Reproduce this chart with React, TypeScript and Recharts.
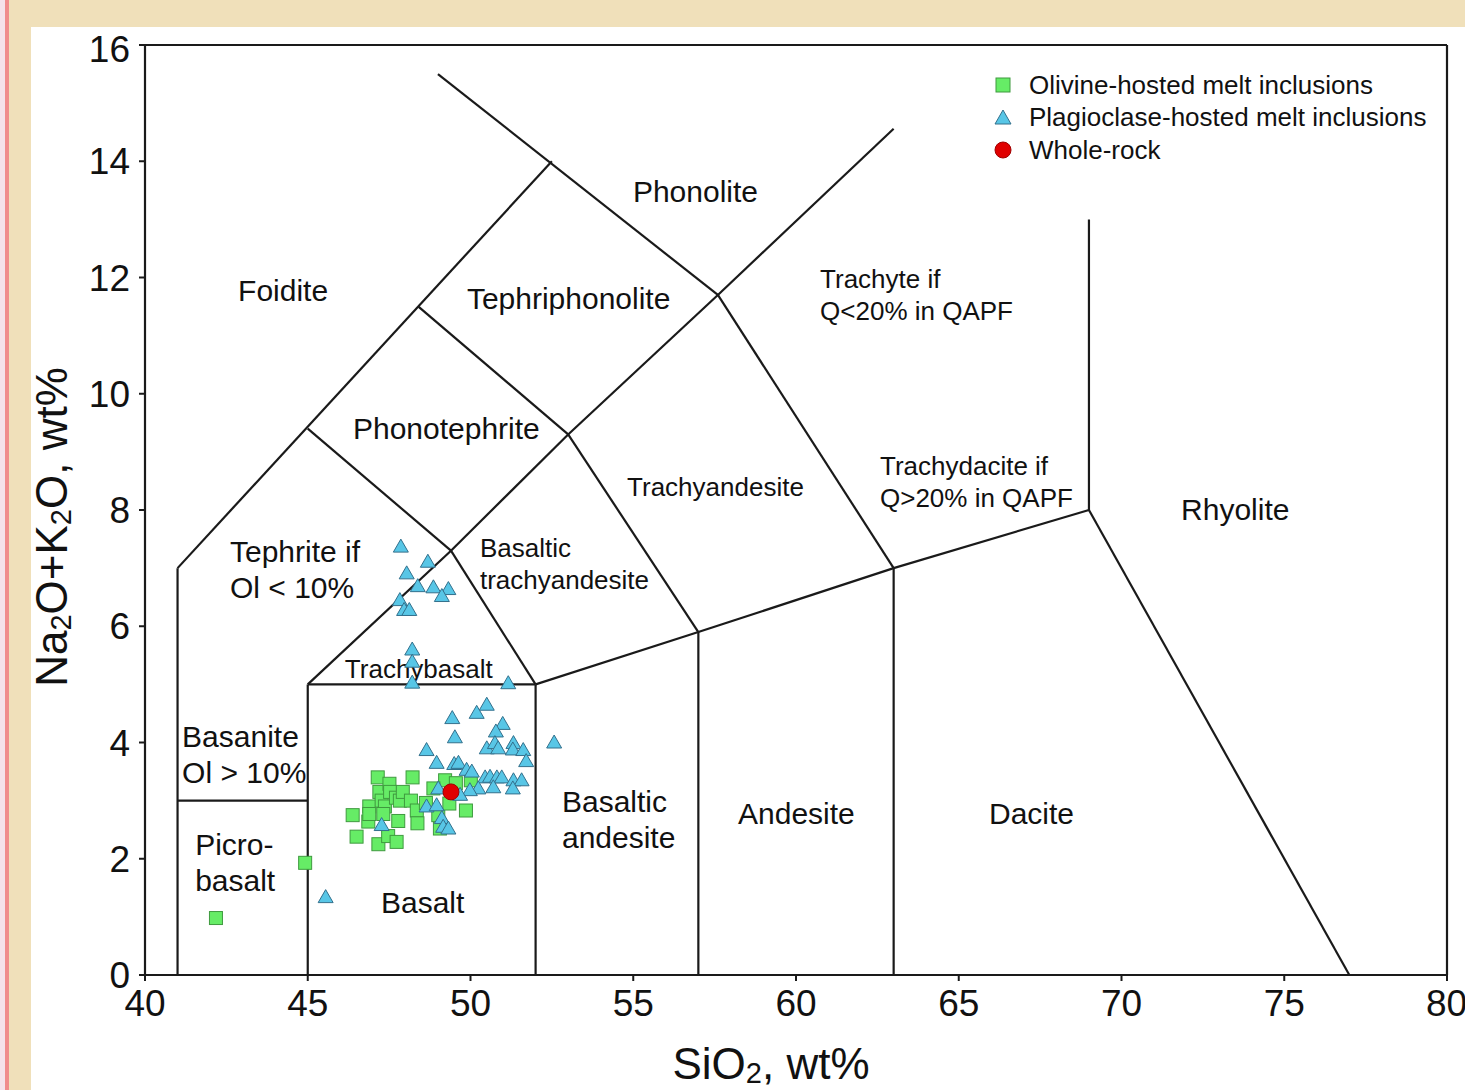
import React from 'react';
import { ScatterChart, Scatter, XAxis, YAxis, ReferenceLine, Legend } from 'recharts';

// axis ticks
const X_TICKS = [40, 45, 50, 55, 60, 65, 70, 75, 80];
const Y_TICKS = [0, 2, 4, 6, 8, 10, 12, 14, 16];

// olivine-hosted melt inclusions (SiO2, Na2O+K2O)
const OLIVINE_MI = [
  { x: 42.18, y: 0.98 }, { x: 44.92, y: 1.93 }, { x: 46.38, y: 2.75 }, { x: 46.5, y: 2.38 },
  { x: 46.86, y: 2.64 }, { x: 46.89, y: 2.9 }, { x: 46.89, y: 2.77 }, { x: 47.15, y: 3.4 },
  { x: 47.2, y: 3.15 }, { x: 47.27, y: 3.0 }, { x: 47.37, y: 2.9 }, { x: 47.32, y: 2.77 },
  { x: 47.17, y: 2.25 }, { x: 47.47, y: 2.39 }, { x: 47.73, y: 2.29 }, { x: 47.51, y: 3.29 },
  { x: 47.53, y: 3.15 }, { x: 47.71, y: 3.05 }, { x: 47.83, y: 3.0 }, { x: 47.92, y: 3.15 },
  { x: 48.22, y: 3.4 }, { x: 48.17, y: 3.0 }, { x: 48.35, y: 2.83 }, { x: 47.78, y: 2.65 },
  { x: 48.37, y: 2.61 }, { x: 48.63, y: 2.96 }, { x: 49.01, y: 2.75 }, { x: 49.22, y: 3.35 },
  { x: 49.35, y: 2.95 }, { x: 49.86, y: 2.83 }, { x: 49.55, y: 3.3 }, { x: 50.01, y: 3.35 },
  { x: 48.86, y: 3.21 }, { x: 49.06, y: 2.52 },
];

// plagioclase-hosted melt inclusions
const PLAGIOCLASE_MI = [
  { x: 47.86, y: 7.37 }, { x: 48.69, y: 7.11 }, { x: 48.04, y: 6.91 }, { x: 48.38, y: 6.69 },
  { x: 48.86, y: 6.67 }, { x: 49.32, y: 6.64 }, { x: 49.12, y: 6.52 }, { x: 47.83, y: 6.45 },
  { x: 47.96, y: 6.28 }, { x: 48.12, y: 6.28 }, { x: 48.21, y: 5.6 }, { x: 48.21, y: 5.39 },
  { x: 48.21, y: 5.03 }, { x: 51.16, y: 5.02 }, { x: 52.57, y: 4.0 }, { x: 45.55, y: 1.34 },
  { x: 50.5, y: 4.65 }, { x: 50.19, y: 4.51 }, { x: 49.44, y: 4.42 }, { x: 50.99, y: 4.32 },
  { x: 50.78, y: 4.19 }, { x: 49.52, y: 4.09 }, { x: 48.65, y: 3.87 }, { x: 50.5, y: 3.9 },
  { x: 50.75, y: 3.99 }, { x: 50.85, y: 3.9 }, { x: 51.32, y: 3.99 }, { x: 51.3, y: 3.88 },
  { x: 51.62, y: 3.87 }, { x: 51.71, y: 3.68 }, { x: 48.96, y: 3.65 }, { x: 49.5, y: 3.63 },
  { x: 49.63, y: 3.65 }, { x: 49.88, y: 3.53 }, { x: 50.04, y: 3.5 }, { x: 50.45, y: 3.4 },
  { x: 50.6, y: 3.41 }, { x: 50.81, y: 3.4 }, { x: 50.96, y: 3.4 }, { x: 51.32, y: 3.35 },
  { x: 51.57, y: 3.35 }, { x: 50.7, y: 3.23 }, { x: 51.3, y: 3.21 }, { x: 50.24, y: 3.21 },
  { x: 49.98, y: 3.18 }, { x: 48.65, y: 2.9 }, { x: 48.96, y: 2.92 }, { x: 49.12, y: 2.7 },
  { x: 49.16, y: 2.55 }, { x: 49.32, y: 2.52 }, { x: 47.27, y: 2.58 }, { x: 49.01, y: 3.21 },
  { x: 49.68, y: 3.1 },
];

const WHOLE_ROCK = [{ x: 49.4, y: 3.15 }];

const SERIES_NAMES = ['Olivine-hosted melt inclusions', 'Plagioclase-hosted melt inclusions', 'Whole-rock'];

// TAS field boundaries (Le Bas et al.), as polylines [SiO2, alkalis]
const FIELD_BOUNDARIES = [
  [[41, 0], [41, 7], [52.5, 14]],
  [[41, 3], [45, 3]],
  [[45, 0], [45, 5], [52, 5], [52, 0]],
  [[45, 5], [49.4, 7.3], [53, 9.3], [57.6, 11.7], [63, 14.56]],
  [[45, 9.4], [49.4, 7.3], [52, 5]],
  [[48.4, 11.5], [53, 9.3], [57, 5.9], [57, 0]],
  [[49, 15.5], [57.6, 11.7], [63, 7], [63, 0]],
  [[52, 5], [57, 5.9], [63, 7], [69, 8], [77, 0]],
  [[69, 8], [69, 13]],
];

// field names, anchored at the left end of the first line's baseline
const BIG_LABELS = [
  { x: 42.86, y: 11.6, lines: ['Foidite'] },
  { x: 49.89, y: 11.46, lines: ['Tephriphonolite'] },
  { x: 54.99, y: 13.3, lines: ['Phonolite'] },
  { x: 46.39, y: 9.22, lines: ['Phonotephrite'] },
  { x: 42.61, y: 7.11, lines: ['Tephrite if', 'Ol < 10%'] },
  { x: 41.14, y: 3.92, lines: ['Basanite', 'Ol > 10%'] },
  { x: 41.54, y: 2.06, lines: ['Picro-', 'basalt'] },
  { x: 47.25, y: 1.07, lines: ['Basalt'] },
  { x: 52.81, y: 2.8, lines: ['Basaltic', 'andesite'] },
  { x: 58.22, y: 2.6, lines: ['Andesite'] },
  { x: 65.93, y: 2.6, lines: ['Dacite'] },
  { x: 71.83, y: 7.83, lines: ['Rhyolite'] },
];

const SMALL_LABELS = [
  { x: 60.74, y: 11.82, lines: ['Trachyte if', 'Q<20% in QAPF'] },
  { x: 62.58, y: 8.6, lines: ['Trachydacite if', 'Q>20% in QAPF'] },
  { x: 54.81, y: 8.24, lines: ['Trachyandesite'] },
  { x: 50.29, y: 7.19, lines: ['Basaltic', 'trachyandesite'] },
  { x: 46.14, y: 5.11, lines: ['Trachybasalt'] },
];

const FONT = '"Liberation Sans", Arial, Helvetica, sans-serif';
const LINE = '#1a1a1a';
const GREEN = '#66ec66';
const GREEN_EDGE = '#3f9a3f';
const BLUE = '#58c6e6';
const BLUE_EDGE = '#33708c';
const RED = '#e00000';
const RED_EDGE = '#a00000';

const Square = ({ cx, cy }: any) => (
  <rect x={cx - 6.5} y={cy - 6.5} width={13} height={13} fill={GREEN} stroke={GREEN_EDGE} strokeWidth={1} />
);

const Triangle = ({ cx, cy }: any) => (
  <polygon
    points={`${cx},${cy - 7.5} ${cx - 7.5},${cy + 5.5} ${cx + 7.5},${cy + 5.5}`}
    fill={BLUE}
    stroke={BLUE_EDGE}
    strokeWidth={1}
  />
);

const Dot = ({ cx, cy }: any) => <circle cx={cx} cy={cy} r={8} fill={RED} stroke={RED_EDGE} strokeWidth={1} />;

const makeLabel = (fontSize: number, lineHeight: number) => (props: any) => {
  const { cx, cy, payload } = props;
  return (
    <text x={cx} y={cy} fontSize={fontSize} fontFamily={FONT} fill="#111">
      {payload.lines.map((l: string, i: number) => (
        <tspan key={i} x={cx} dy={i === 0 ? 0 : lineHeight}>
          {l}
        </tspan>
      ))}
    </text>
  );
};

const BigLabel = makeLabel(30, 36);
const SmallLabel = makeLabel(26, 32);

const XTitle = ({ viewBox }: any) => {
  const cx = viewBox.x + viewBox.width / 2 - 25;
  return (
    <text x={cx} y={viewBox.y + 104} textAnchor="middle" fontSize={44} fontFamily={FONT} fill="#111">
      SiO
      <tspan fontSize={29} dy={4}>2</tspan>
      <tspan dy={-4}>, wt%</tspan>
    </text>
  );
};

// chart svg starts 22px left of the white panel so the rotated title has room
const YTitle = () => (
  <text
    x={0}
    y={0}
    transform="translate(58, 500) rotate(-90)"
    textAnchor="middle"
    fontSize={44}
    fontFamily={FONT}
    fill="#111"
  >
    Na
    <tspan fontSize={29} dy={4}>2</tspan>
    <tspan dy={-4}>O+K</tspan>
    <tspan fontSize={29} dy={4}>2</tspan>
    <tspan dy={-4}>O, wt%</tspan>
  </text>
);

const legendIcons = [
  <rect key="s" x={6} y={3} width={14} height={14} fill={GREEN} stroke={GREEN_EDGE} />,
  <polygon key="t" points="13,2 5,16 21,16" fill={BLUE} stroke={BLUE_EDGE} />,
  <circle key="c" cx={13} cy={10} r={8} fill={RED} stroke={RED_EDGE} />,
];

const LegendBox = () => (
  <div style={{ fontFamily: FONT, fontSize: 26, color: '#111' }}>
    {SERIES_NAMES.map((name, i) => (
      <div key={name} style={{ display: 'flex', alignItems: 'center', height: 32.5, whiteSpace: 'nowrap' }}>
        <svg width={26} height={20}>{legendIcons[i]}</svg>
        <span style={{ marginLeft: 13 }}>{name}</span>
      </div>
    ))}
  </div>
);

const segments = FIELD_BOUNDARIES.flatMap((poly, pi) =>
  poly.slice(1).map((p, i) => ({ key: `b-${pi}-${i}`, a: poly[i], b: p }))
);

export default function App() {
  return (
    <div style={{ position: 'absolute', left: 0, top: 0, width: 1465, height: 1090, background: '#f0e0ba', overflow: 'hidden' }}>
      <div style={{ position: 'absolute', left: 0, top: 0, width: 5, height: 1090, background: '#f5e2ea' }} />
      <div style={{ position: 'absolute', left: 5, top: 0, width: 4, height: 1090, background: '#f08c8c' }} />
      <div style={{ position: 'absolute', left: 31, top: 27, width: 1434, height: 1063, background: '#ffffff' }} />
      <div style={{ position: 'absolute', left: 9, top: 27, width: 1456, height: 1063 }}>
        <ScatterChart width={1456} height={1063} margin={{ top: 18, right: 18, bottom: 55, left: 56 }}>
          <XAxis
            type="number"
            dataKey="x"
            domain={[40, 80]}
            ticks={X_TICKS}
            allowDataOverflow
            height={60}
            tickSize={6}
            tickMargin={9}
            axisLine={{ stroke: LINE, strokeWidth: 2.2 }}
            tickLine={{ stroke: LINE, strokeWidth: 2 }}
            tick={{ fill: '#111', fontSize: 37, fontFamily: FONT }}
            label={<XTitle />}
          />
          <YAxis
            type="number"
            dataKey="y"
            domain={[0, 16]}
            ticks={Y_TICKS}
            allowDataOverflow
            width={80}
            tickSize={6}
            tickMargin={9}
            axisLine={{ stroke: LINE, strokeWidth: 2.2 }}
            tickLine={{ stroke: LINE, strokeWidth: 2 }}
            tick={{ fill: '#111', fontSize: 37, fontFamily: FONT }}
            label={<YTitle />}
          />
          <ReferenceLine y={16} stroke={LINE} strokeWidth={2.2} ifOverflow="visible" />
          <ReferenceLine x={80} stroke={LINE} strokeWidth={2.2} ifOverflow="visible" />
          {segments.map((s) => (
            <ReferenceLine
              key={s.key}
              segment={[{ x: s.a[0], y: s.a[1] }, { x: s.b[0], y: s.b[1] }]}
              stroke={LINE}
              strokeWidth={2.2}
              ifOverflow="visible"
            />
          ))}
          <Scatter data={BIG_LABELS} shape={BigLabel} legendType="none" isAnimationActive={false} />
          <Scatter data={SMALL_LABELS} shape={SmallLabel} legendType="none" isAnimationActive={false} />
          <Scatter name={SERIES_NAMES[0]} data={OLIVINE_MI} shape={Square} isAnimationActive={false} />
          <Scatter name={SERIES_NAMES[1]} data={PLAGIOCLASE_MI} shape={Triangle} isAnimationActive={false} />
          <Scatter name={SERIES_NAMES[2]} data={WHOLE_ROCK} shape={Dot} isAnimationActive={false} />
          <Legend
            layout="vertical"
            align="center"
            verticalAlign="middle"
            content={<LegendBox />}
            wrapperStyle={{ left: 981, top: 42, width: 'auto' }}
          />
        </ScatterChart>
      </div>
    </div>
  );
}
